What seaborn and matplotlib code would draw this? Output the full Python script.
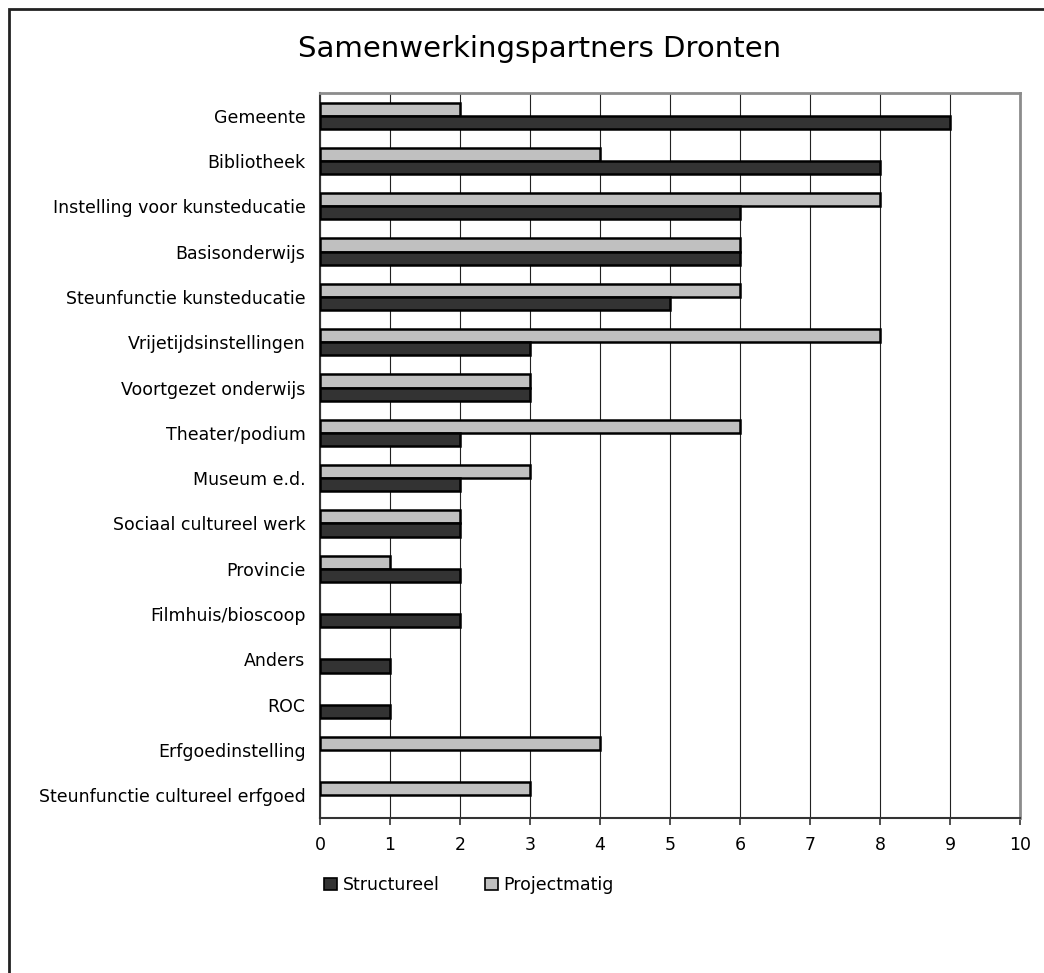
import matplotlib
matplotlib.use("Agg")
import matplotlib.pyplot as plt
import seaborn as sns
import pandas as pd
import numpy as np
from matplotlib.patches import Rectangle, Patch
from matplotlib.ticker import FixedLocator

categories = [
    "Gemeente", "Bibliotheek", "Instelling voor kunsteducatie", "Basisonderwijs",
    "Steunfunctie kunsteducatie", "Vrijetijdsinstellingen", "Voortgezet onderwijs",
    "Theater/podium", "Museum e.d.", "Sociaal cultureel werk", "Provincie",
    "Filmhuis/bioscoop", "Anders", "ROC", "Erfgoedinstelling",
    "Steunfunctie cultureel erfgoed",
]
structureel = [9, 8, 6, 6, 5, 3, 3, 2, 2, 2, 2, 2, 1, 1, 0, 0]
projectmatig = [2, 4, 8, 6, 6, 8, 3, 6, 3, 2, 1, 0, 0, 0, 4, 3]
series_names = ["Structureel", "Projectmatig"]
colors = {"Structureel": "#333333", "Projectmatig": "#c0c0c0"}
title = "Samenwerkingspartners Dronten"

df = pd.DataFrame({
    "categorie": categories * 2,
    "waarde": structureel + projectmatig,
    "reeks": ["Structureel"] * len(categories) + ["Projectmatig"] * len(categories),
})
df_plot = df[df["waarde"] > 0]

sns.set_style("white")
plt.rcParams["font.family"] = ["DejaVu Sans"]
plt.rcParams["text.color"] = "black"
plt.rcParams["xtick.color"] = "black"
plt.rcParams["ytick.color"] = "black"

fig = plt.figure(figsize=(10.44, 9.73), dpi=100)
ax = fig.add_axes([320 / 1044, 1 - 818 / 973, 700 / 1044, 725 / 973])

sns.barplot(
    data=df_plot, y="categorie", x="waarde", hue="reeks",
    order=categories, hue_order=["Projectmatig", "Structureel"],
    palette=colors, orient="h", width=0.58, edgecolor="black", linewidth=1.8,
    legend=False, ax=ax, zorder=3,
)

ax.set_xlim(0, 10)
ax.set_ylim(len(categories) - 0.5, -0.5)
ax.set_xticks(range(0, 11))
ax.set_xticklabels([str(i) for i in range(0, 11)], fontsize=12.5)
ax.grid(axis="x", color="#222222", linewidth=0.8, zorder=0)
ax.grid(axis="y", visible=False)
ax.set_axisbelow(True)
ax.set_xlabel("")
ax.set_ylabel("")

ax.tick_params(axis="y", which="major", length=0, labelsize=12.5, pad=10.5)
ax.yaxis.set_minor_locator(FixedLocator(np.arange(-0.5, len(categories), 1.0)))
ax.tick_params(axis="y", which="minor", length=5, width=1.2, color="#333333", direction="out")
ax.tick_params(axis="x", which="major", length=5, width=1.2, color="#333333",
               direction="out", bottom=True, pad=8)

for side in ["left", "bottom"]:
    ax.spines[side].set_color("#333333")
    ax.spines[side].set_linewidth(1.5)
for side in ["top", "right"]:
    ax.spines[side].set_visible(True)
    ax.spines[side].set_color("#8c8c8c")
    ax.spines[side].set_linewidth(2)

fig.text(540 / 1044, 1 - 49 / 973, title, ha="center", va="center", fontsize=21)

handles = [Patch(facecolor=colors[n], edgecolor="black", linewidth=1.2) for n in series_names]
fig.legend(handles, series_names, loc="center left",
           bbox_to_anchor=(312 / 1044, 1 - 885 / 973), ncol=2, frameon=False,
           fontsize=12.5, handlelength=0.75, handleheight=0.75, handletextpad=0.3,
           columnspacing=2.65, borderpad=0.2)

border = Rectangle((9 / 1044, -0.05), 1.2, 1 - 9 / 973 + 0.05, transform=fig.transFigure,
                   fill=False, edgecolor="#222222", linewidth=2, clip_on=False)
fig.patches.append(border)

fig.savefig("out.png", dpi=100, facecolor="white")
